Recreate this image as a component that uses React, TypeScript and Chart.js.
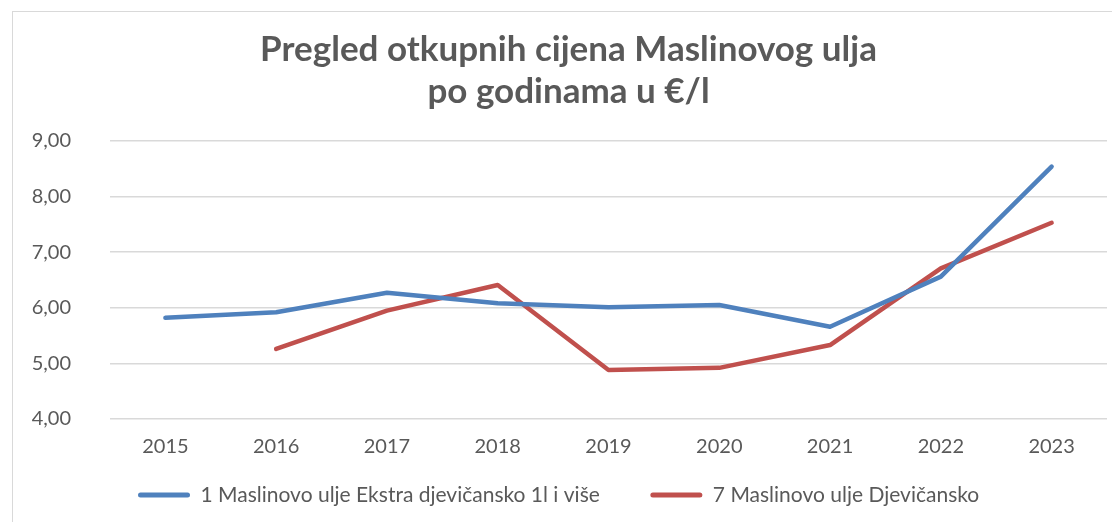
import React, { useEffect, useRef } from "react";
import { Chart, registerables } from "chart.js";

Chart.register(...registerables);

const years = ["2015", "2016", "2017", "2018", "2019", "2020", "2021", "2022", "2023"];
const extraVirginPrices = [5.82, 5.92, 6.27, 6.08, 6.01, 6.05, 5.66, 6.56, 8.54];
const virginPrices = [null, 5.26, 5.95, 6.41, 4.88, 4.92, 5.33, 6.71, 7.53];
const seriesNames = [
  "1 Maslinovo ulje Ekstra djevičansko 1l i više",
  "7 Maslinovo ulje Djevičansko",
];
const titleLines = ["Pregled otkupnih cijena Maslinovog ulja", "po godinama u €/l"];
const yMin = 4;
const yMax = 9;

const TEXT = "#595959";
const BLUE = "#4f81bd";
const RED = "#c0504d";
const FONT = "Lato, 'Open Sans', sans-serif";

const LEGEND_LEFT = 74.5;
const LEGEND_TOP = 422;

export default function App() {
  const ref = useRef<HTMLCanvasElement | null>(null);

  useEffect(() => {
    if (!ref.current) return;
    const legendPlacer = {
      id: "legendPlacer",
      afterLayout(chart: any) {
        const lg = chart.legend;
        if (!lg) return;
        const w = lg.right - lg.left;
        const h = lg.bottom - lg.top;
        lg.left = LEGEND_LEFT;
        lg.right = LEGEND_LEFT + w;
        lg.top = LEGEND_TOP;
        lg.bottom = LEGEND_TOP + h;
      },
    };
    const chart = new Chart(ref.current, {
      type: "line",
      data: {
        labels: years,
        datasets: [
          {
            label: seriesNames[0],
            data: extraVirginPrices,
            borderColor: BLUE,
            backgroundColor: BLUE,
            borderWidth: 4.5,
            pointRadius: 0,
            pointHoverRadius: 0,
            tension: 0,
            borderCapStyle: "round",
            borderJoinStyle: "round",
          },
          {
            label: seriesNames[1],
            data: virginPrices,
            borderColor: RED,
            backgroundColor: RED,
            borderWidth: 4.5,
            pointRadius: 0,
            pointHoverRadius: 0,
            tension: 0,
            borderCapStyle: "round",
            borderJoinStyle: "round",
          },
        ],
      },
      options: {
        animation: false,
        responsive: false,
        maintainAspectRatio: false,
        layout: { padding: { left: 17, right: 28, top: 0, bottom: 0.5 } },
        plugins: {
          title: {
            display: true,
            text: titleLines,
            color: TEXT,
            font: { family: FONT, size: 35, weight: "bold", lineHeight: 42 / 35 },
            padding: { top: 17, bottom: 28 },
          },
          legend: {
            position: "bottom",
            align: "start",
            labels: {
              color: TEXT,
              font: { family: FONT, size: 21 },
              boxWidth: 52,
              boxHeight: 5,
              padding: 50.5,
              generateLabels(chart: any) {
                const base = (Chart.defaults.plugins.legend.labels as any).generateLabels(chart);
                return base.map((l: any) => ({ ...l, lineWidth: 0, borderRadius: 2.5 }));
              },
            },
          },
          tooltip: { enabled: false },
        },
        scales: {
          x: {
            offset: true,
            grid: { display: false, drawTicks: false, offset: true },
            border: { display: false },
            ticks: { color: TEXT, font: { family: FONT, size: 20 }, padding: 16 },
            afterFit(scale: any) {
              scale.height = 39;
            },
          },
          y: {
            min: yMin,
            max: yMax,
            grid: { color: "#d9d9d9", lineWidth: 1.5, drawTicks: false },
            border: { display: false },
            ticks: {
              stepSize: 1,
              color: TEXT,
              font: { family: FONT, size: 20 },
              padding: 39,
              callback: (v: any) => Number(v).toFixed(2).replace(".", ","),
            },
            afterFit(scale: any) {
              scale.width = 80;
            },
          },
        },
      },
      plugins: [legendPlacer],
    });
    return () => chart.destroy();
  }, []);

  return (
    <div
      style={{
        position: "fixed",
        left: 0,
        top: 0,
        width: 1112,
        height: 522,
        overflow: "hidden",
        background: "#ffffff",
      }}
    >
      <div
        style={{
          position: "absolute",
          left: 12,
          top: 11,
          width: 1124,
          height: 530,
          border: "1px solid #d9d9d9",
          boxSizing: "border-box",
        }}
      >
        <canvas ref={ref} width={1122} height={528} style={{ display: "block" }} />
      </div>
    </div>
  );
}
